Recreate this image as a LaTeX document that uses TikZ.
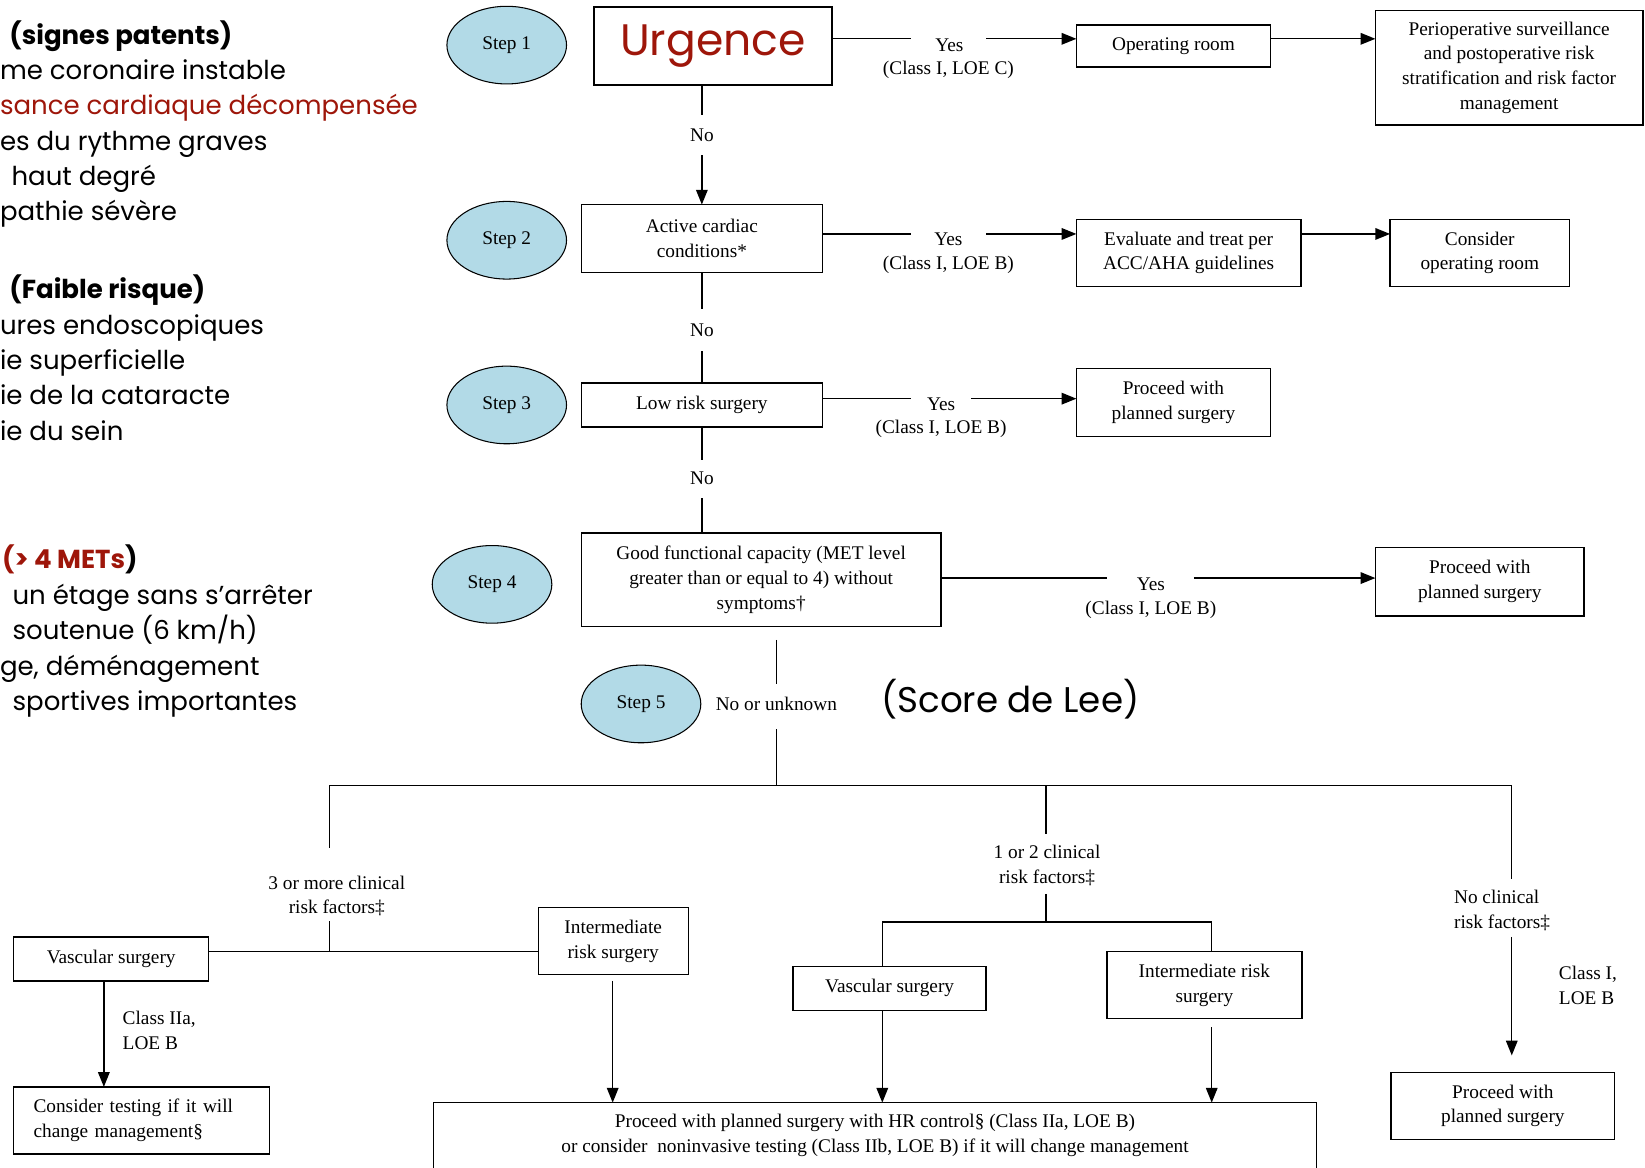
\documentclass[tikz,border=0pt]{standalone}
\usepackage{fontspec}
\setmainfont{Liberation Serif}
\newfontfamily\comicfont{Poppins}
\usetikzlibrary{arrows.meta,shapes.geometric}
\definecolor{urgred}{RGB}{158,22,10}
\definecolor{stepblue}{RGB}{178,218,231}
\newcommand\mytfont{\fontsize{9.2}{11.8}\selectfont}
\newcommand\mycfont{\comicfont\fontsize{12.4}{16}\selectfont}
\begin{document}
\begin{tikzpicture}[x=0.5pt,y=-0.5pt,
  every node/.style={inner sep=0pt,outer sep=0pt},
  box/.style={draw,line width=0.65pt,align=center,font=\mytfont},
  stepel/.style={ellipse,draw,fill=stepblue,line width=0.5pt,minimum width=57pt,minimum height=37pt,font=\mytfont},
  lbl/.style={align=center,font=\mytfont},
  conn/.style={line width=0.65pt},
  arr/.style={line width=0.65pt,-{Triangle[length=7pt,width=5.5pt]}},
  ct/.style={anchor=west,font=\mycfont,text height=10pt,text depth=3pt},
  cth/.style={anchor=west,font=\mycfont\bfseries,text height=10pt,text depth=3pt},
]
\fill[white] (0,0) rectangle (1568,1113);
\path[use as bounding box] (0,0) rectangle (1568,1113);

% left French texts
\node[cth] (t1) at (9,35) {(signes patents)};
\node[ct] (t2) at (0,69) {me coronaire instable};
\node[ct,text=urgred] (t3) at (0,102) {sance cardiaque décompensée};
\node[ct] (t4) at (0,136) {es du rythme graves};
\node[ct] (t5) at (11,170) {haut degré};
\node[ct] (t6) at (0,203) {pathie sévère};
\node[cth] (t7) at (9,278) {(Faible risque)};
\node[ct] (t8) at (0,312) {ures endoscopiques};
\node[ct] (t9) at (0,345) {ie superficielle};
\node[ct] (t10) at (0,379) {ie de la cataracte};
\node[ct] (t11) at (0,413) {ie du sein};
\node[cth] (t12) at (2,535) {\textcolor{urgred}{(> 4 METs}\textcolor{black}{)}};
\node[ct] (t13) at (12,569) {un étage sans s’arrêter};
\node[ct] (t14) at (12,603) {soutenue (6 km/h)};
\node[ct] (t15) at (0,637) {ge, déménagement};
\node[ct] (t16) at (12,670) {sportives importantes};

% steps
\node[stepel] (s1) at (483,43) {Step 1};
\node[stepel] (s2) at (483,229) {Step 2};
\node[stepel] (s3) at (483,386) {Step 3};
\node[stepel] (s4) at (469,557) {Step 4};
\node[stepel] (s5) at (611,671) {Step 5};

% boxes
\node[box,minimum width=113.5pt,minimum height=37pt,line width=0.9pt,text=urgred,font=\comicfont\fontsize{21}{24}\selectfont] (urg) at (679.5,44) {Urgence};
\node[box,minimum width=92.5pt,minimum height=20pt] (oproom) at (1118.5,44) {Operating room};
\node[box,minimum width=127.5pt,minimum height=54.5pt] (perio) at (1438.5,64.5) {Perioperative surveillance\\and postoperative risk\\stratification and risk factor\\management};
\node[box,minimum width=115pt,minimum height=32.5pt] (active) at (669,227.5) {Active cardiac\\conditions*};
\node[box,minimum width=107pt,minimum height=32pt] (eval) at (1133,241) {Evaluate and treat per\\ACC/AHA guidelines};
\node[box,minimum width=85.5pt,minimum height=32pt] (cons) at (1410.5,241) {Consider\\operating room};
\node[box,minimum width=115pt,minimum height=21pt] (low) at (669,386) {Low risk surgery};
\node[box,minimum width=92.5pt,minimum height=32.5pt] (proc1) at (1118.5,383.5) {Proceed with\\planned surgery};
\node[box,minimum width=171.5pt,minimum height=44.5pt] (good) at (725.5,552.5) {Good functional capacity (MET level\\greater than or equal to 4) without\\symptoms†};
\node[box,minimum width=99.5pt,minimum height=32.5pt] (proc2) at (1410.5,554.5) {Proceed with\\planned surgery};
\node[box,minimum width=93pt,minimum height=21pt] (vasc1) at (106,914) {Vascular surgery};
\node[box,minimum width=71.5pt,minimum height=32pt] (inter1) at (584.5,897) {Intermediate\\risk surgery};
\node[box,text width=103pt,inner xsep=9.5pt,minimum height=32pt,align=left] (test) at (135,1068) {Consider testing if it will\\change management§};
\node[box,minimum width=92pt,minimum height=21pt] (vasc2) at (848,942) {Vascular surgery};
\node[box,minimum width=93pt,minimum height=32pt] (inter2) at (1148,939) {Intermediate risk\\surgery};
\node[box,minimum width=106.5pt,minimum height=32pt] (proc3) at (1432.5,1054) {Proceed with\\planned surgery};
\node[box,draw=none,minimum width=421pt,minimum height=31.5pt] (bott) at (834,1082.5) {Proceed with planned surgery with HR control§ (Class IIa, LOE B)\\or consider\ \ noninvasive testing (Class IIb, LOE B) if it will change management};
\draw[line width=0.65pt] (bott.south west) |- (bott.north east) -- (bott.south east);

% labels
\node[lbl] (y1) at (905,43) {Yes};
\node[lbl] (c1) at (904,67) {(Class I, LOE C)};
\node[lbl] (y2) at (904,228) {Yes};
\node[lbl] (c2) at (904,252) {(Class I, LOE B)};
\node[lbl] (y3) at (897,385) {Yes};
\node[lbl] (c3) at (897,409) {(Class I, LOE B)};
\node[lbl] (y4) at (1097,557) {Yes};
\node[lbl] (c4) at (1097,581) {(Class I, LOE B)};
\node[lbl] (no1) at (669,129) {No};
\node[lbl] (no2) at (669,315) {No};
\node[lbl] (no3) at (669,456) {No};
\node[lbl] (no4) at (740,671) {No or unknown};
\node[font=\comicfont\fontsize{17}{21}\selectfont] (lee) at (963,666) {(Score de Lee)};
\node[lbl] (l3) at (321,854) {3 or more clinical\\risk factors‡};
\node[lbl] (l12) at (998,825) {1 or 2 clinical\\risk factors‡};
\node[lbl,align=left,anchor=west] (l0) at (1386,868) {No clinical\\risk factors‡};
\node[lbl,align=left,anchor=west] (c5) at (117,982) {Class IIa,\\LOE B};
\node[lbl,align=left,anchor=west] (c6) at (1486,939) {Class I,\\LOE B};

% horizontal yes connectors
\coordinate (g1a) at (868,37); \coordinate (g1b) at (940,37);
\draw[conn] (urg.east |- g1a) -- (g1a);
\draw[arr] (g1b) -- (oproom.west |- g1b);
\draw[arr] (oproom.east |- g1b) -- (perio.west |- g1b);
\coordinate (g2a) at (868,223); \coordinate (g2b) at (940,223);
\draw[conn] (active.east |- g2a) -- (g2a);
\draw[arr] (g2b) -- (eval.west |- g2b);
\draw[arr] (eval.east |- g2b) -- (cons.west |- g2b);
\coordinate (g3a) at (868,380); \coordinate (g3b) at (926,380);
\draw[conn] (low.east |- g3a) -- (g3a);
\draw[arr] (g3b) -- (proc1.west |- g3b);
\coordinate (g4a) at (1055,551); \coordinate (g4b) at (1138,551);
\draw[conn] (good.east |- g4a) -- (g4a);
\draw[arr] (g4b) -- (proc2.west |- g4b);

% vertical no connectors
\coordinate (n1a) at (669,110); \coordinate (n1b) at (669,148);
\draw[conn] (n1a |- urg.south) -- (n1a);
\draw[arr] (n1b) -- (n1b |- active.north);
\coordinate (n2a) at (669,295); \coordinate (n2b) at (669,335);
\draw[conn] (n2a |- active.south) -- (n2a);
\draw[conn] (n2b) -- (n2b |- low.north);
\coordinate (n3a) at (669,438); \coordinate (n3b) at (669,475);
\draw[conn] (n3a |- low.south) -- (n3a);
\draw[conn] (n3b) -- (n3b |- good.north);
\coordinate (n4a) at (740,610); \coordinate (n4b) at (740,652); \coordinate (n4c) at (740,695);
\draw[conn] (n4a) -- (n4b);
\coordinate (hl) at (314,749); \coordinate (hr) at (1441,749);
\draw[conn] (n4c) -- (n4c |- hl);
\draw[conn] (hl) -- (hr);

% left branch
\coordinate (lb1) at (314,808); \coordinate (lb2) at (314,878); \coordinate (j1) at (314,907);
\draw[conn] (hl) -- (lb1);
\draw[conn] (lb2) -- (j1);
\draw[conn] (vasc1.east |- j1) -- (inter1.west |- j1);
\coordinate (va) at (99,935);
\draw[arr] (va |- vasc1.south) -- (va |- test.north);
\coordinate (ia) at (584,935);
\draw[arr] (ia) -- (ia |- bott.north);

% middle branch
\coordinate (m0) at (997,749); \coordinate (m1) at (997,795);
\coordinate (m2) at (997,852); \coordinate (m3) at (997,879);
\draw[conn] (m0) -- (m1);
\draw[conn] (m2) -- (m3);
\coordinate (ml) at (841,879); \coordinate (mr) at (1155,879);
\draw[conn] (ml) -- (mr);
\draw[conn] (ml) -- (ml |- vasc2.north);
\draw[conn] (mr) -- (mr |- inter2.north);
\draw[arr] (ml |- vasc2.south) -- (ml |- bott.north);
\coordinate (ib) at (1155,979);
\draw[arr] (ib) -- (ib |- bott.north);

% right branch
\coordinate (r1) at (1441,838); \coordinate (r2) at (1441,893); \coordinate (r3) at (1441,1006);
\draw[conn] (hr) -- (r1);
\draw[arr] (r2) -- (r3);
\end{tikzpicture}
\end{document}
